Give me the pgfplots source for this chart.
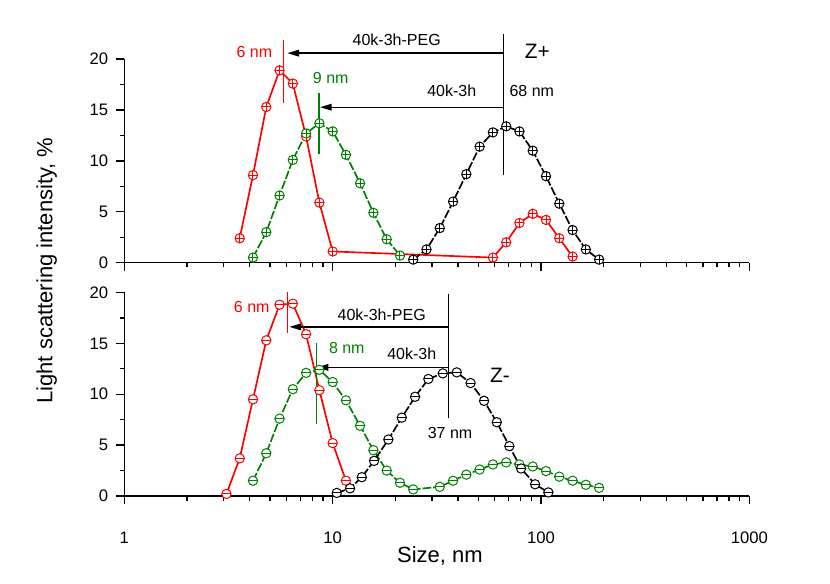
\documentclass[border=0pt]{standalone}
\usepackage{fontspec}
\setmainfont{Liberation Sans}
\usepackage{pgfplots}
\pgfplotsset{compat=1.18}
\usetikzlibrary{arrows.meta}
\definecolor{dgreen}{RGB}{0,128,0}

% circle with plus / minus, white filled
\pgfdeclareplotmark{cplus}{%
  \pgfpathcircle{\pgfpointorigin}{\pgfplotmarksize}\pgfusepathqfillstroke
  \pgfpathmoveto{\pgfqpoint{-\pgfplotmarksize}{0pt}}\pgfpathlineto{\pgfqpoint{\pgfplotmarksize}{0pt}}%
  \pgfpathmoveto{\pgfqpoint{0pt}{-\pgfplotmarksize}}\pgfpathlineto{\pgfqpoint{0pt}{\pgfplotmarksize}}%
  \pgfusepathqstroke}
\pgfdeclareplotmark{cminus}{%
  \pgfpathcircle{\pgfpointorigin}{\pgfplotmarksize}\pgfusepathqfillstroke
  \pgfpathmoveto{\pgfqpoint{-\pgfplotmarksize}{0pt}}\pgfpathlineto{\pgfqpoint{\pgfplotmarksize}{0pt}}%
  \pgfusepathqstroke}

\tikzset{ann/.style={font=\fontsize{9.6}{11}\selectfont},
  zlab/.style={font=\fontsize{12.5}{14}\selectfont},
  arr/.style={line width=0.8pt, -{Triangle[length=7pt,width=4pt]}},
  dsh/.style={dash pattern=on 5.2pt off 1.2pt},
  ser/.style={line width=1pt, mark size=2.8pt, mark options={solid, fill=white, line width=0.6pt}}}

\pgfplotsset{
  every axis/.append style={
    scale only axis, width=375pt, height=122.1pt,
    xmin=1, xmax=1000, ymin=0, ymax=20,
    axis x line=bottom, axis y line=left, axis line style={-, line width=0.8pt},
    tick align=outside, major tick length=5pt, minor tick length=2.8pt,
    every tick/.style={black, line width=0.8pt},
    ytick={0,5,10,15,20}, minor ytick={2.5,7.5,12.5,17.5},
    xtick={1,10,100,1000},
    minor xtick={2,3,4,5,6,7,8,9,20,30,40,50,60,70,80,90,200,300,400,500,600,700,800,900},
    tick label style={font=\fontsize{10}{12}\selectfont},
    xticklabel style={yshift=-12.8pt},
    yticklabel style={xshift=-1.2pt},
    clip=false}}

\begin{document}
\begin{tikzpicture}
\path[use as bounding box] (-74.6pt,-52.8pt) rectangle (423.4pt,297.6pt);

% Z+ panel
\begin{semilogxaxis}[at={(0pt,140pt)}, anchor=south west, xticklabels={},
  /pgf/number format/assume math mode=true]
\addplot[ser, red, mark=cplus] coordinates {
(3.580,2.4) (4.145,8.6) (4.801,15.3) (5.560,18.9) (6.439,17.6) (7.456,12.4)
(8.635,5.9) (10.00,1.1) (58.77,0.5) (68.06,2.0) (78.82,3.9) (91.28,4.8)
(105.7,4.2) (122.4,2.4) (141.8,0.6)};
\addplot[ser, dgreen, dsh, mark=cplus] coordinates {
(4.145,0.5) (4.801,3.0) (5.560,6.6) (6.439,10.1) (7.456,12.7) (8.635,13.7)
(10.00,12.9) (11.58,10.6) (13.54,7.8) (15.69,4.9) (18.17,2.3) (21.04,0.7)};
\addplot[ser, black, dsh, mark=cplus] coordinates {
(24.36,0.3) (28.21,1.3) (32.67,3.4) (37.84,6.0) (43.82,8.7) (50.75,11.4)
(58.77,12.8) (68.06,13.4) (78.82,12.9) (91.28,11.0) (105.7,8.5) (122.4,5.8)
(141.8,3.2) (164.2,1.3) (190.1,0.3)};
\draw[line width=0.8pt] (axis cs:66,22.5) -- (axis cs:66,8.6);
\draw[arr] (axis cs:66,20.59) -- (axis cs:6.06,20.59);
\draw[arr] (axis cs:66,15.28) -- (axis cs:8.7,15.28);
\draw[red, line width=0.8pt] (axis cs:5.8,21.9) -- (axis cs:5.8,15.73);
\draw[dgreen, line width=0.8pt] (axis cs:8.6,16.72) -- (axis cs:8.6,10.66);
\node[ann] at (axis cs:20.3,21.9) {40k-3h-PEG};
\node[ann, red] at (axis cs:4.21,20.69) {6 nm};
\node[ann, dgreen] at (axis cs:9.79,18.13) {9 nm};
\node[ann] at (axis cs:37.3,16.88) {40k-3h};
\node[ann] at (axis cs:90.3,16.88) {68 nm};
\node[zlab] at (axis cs:96.1,20.75) {Z+};
\end{semilogxaxis}

% Z- panel
\begin{semilogxaxis}[at={(0pt,0pt)}, anchor=south west,
  xticklabels={1,10,100,1000},
  xlabel={Size, nm},
  xlabel style={font=\fontsize{13.2}{16}\selectfont, at={(axis description cs:0.505,0)}, anchor=center, yshift=-36pt},
  /pgf/number format/assume math mode=true]
\addplot[ser, red, mark=cminus] coordinates {
(3.091,0.2) (3.580,3.7) (4.145,9.5) (4.801,15.3) (5.560,18.8) (6.439,18.9)
(7.456,15.9) (8.635,10.4) (10.00,5.2) (11.58,1.5)};
\addplot[ser, dgreen, dsh, mark=cminus] coordinates {
(4.145,1.5) (4.801,4.2) (5.560,7.6) (6.439,10.5) (7.456,12.1) (8.635,12.4)
(10.00,11.2) (11.58,9.4) (13.54,6.9) (15.69,4.5) (18.17,2.5) (21.04,1.3)
(24.36,0.65) (32.67,0.9) (37.84,1.5) (43.82,2.1) (50.75,2.6) (58.77,3.1)
(68.06,3.3) (78.82,3.1) (91.28,2.9) (105.7,2.45) (122.4,1.9) (141.8,1.5)
(164.2,1.1) (190.1,0.8)};
\addplot[ser, black, dsh, mark=cminus] coordinates {
(10.46,0.3) (12.12,0.75) (13.80,1.85) (15.80,3.45) (18.51,5.55) (21.47,7.7)
(24.86,9.75) (28.80,11.5) (33.78,12.05) (39.42,12.15) (45.92,11.1) (53.31,9.35)
(61.35,7.25) (70.52,4.9) (80.25,2.7) (93.70,1.15) (108.5,0.35)};
\draw[line width=0.8pt] (axis cs:35.9,19.83) -- (axis cs:35.9,7.63);
\draw[arr] (axis cs:35.9,16.62) -- (axis cs:6.2,16.62);
\draw[arr] (axis cs:35.9,12.64) -- (axis cs:8.39,12.64);
\draw[red, line width=0.8pt] (axis cs:6.06,20.06) -- (axis cs:6.06,16.04);
\draw[dgreen, line width=0.8pt] (axis cs:8.39,14.99) -- (axis cs:8.39,7.07);
\node[ann] at (axis cs:17.2,17.84) {40k-3h-PEG};
\node[ann, red] at (axis cs:4.09,18.59) {6 nm};
\node[ann, dgreen] at (axis cs:11.69,14.5) {8 nm};
\node[ann] at (axis cs:23.97,13.94) {40k-3h};
\node[ann] at (axis cs:36.6,6.22) {37 nm};
\node[zlab] at (axis cs:63.6,11.88) {Z-};
\end{semilogxaxis}

\node[rotate=90, font=\fontsize{13.2}{16}\selectfont] at (-46.6pt,135.3pt) {Light scattering intensity, \%};
\end{tikzpicture}
\end{document}
